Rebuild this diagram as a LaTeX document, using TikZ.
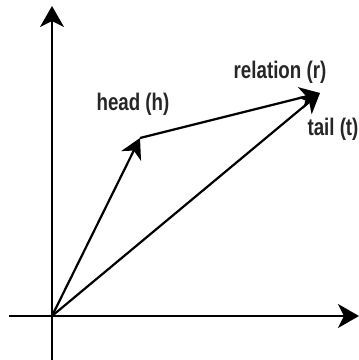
\documentclass[tikz,border=0pt]{standalone}
\usepackage{fontspec}
\newfontfamily\labelfont[FakeStretch=0.78]{Liberation Sans}
\usetikzlibrary{arrows.meta, positioning}

\begin{document}
\begin{tikzpicture}[
  x=1pt, y=-1pt,
  axis/.style={line width=2.2pt, -{Stealth[length=21pt, width=24pt, inset=6pt]}},
  vec/.style={line width=2.2pt, -{Stealth[length=20pt, width=22pt, inset=6pt]}},
  lbl/.style={font=\labelfont\bfseries\fontsize{24}{28}\selectfont, inner sep=0pt, text=black!85}
]
  \useasboundingbox (0,0) rectangle (359,360);
  \coordinate (origin) at (52,316);
  \coordinate (xstart) at (9,316);
  \coordinate (xend) at (359,316);
  \coordinate (ystart) at (52,360);
  \coordinate (yend) at (52,6);
  \coordinate (head) at (140,138);
  \coordinate (tail) at (320,93);

  \draw[axis] (xstart) -- (xend);
  \draw[axis] (ystart) -- (yend);
  \draw[vec] (origin) -- (head);
  \draw[vec] (head) -- (tail);
  \draw[vec] (origin) -- (tail);

  \node[lbl] (hlabel) at (133,104) {head (h)};
  \node[lbl] (rlabel) at (280,72) {relation (r)};
  \node[lbl] (tlabel) at (333,129) {tail (t)};
\end{tikzpicture}
\end{document}
